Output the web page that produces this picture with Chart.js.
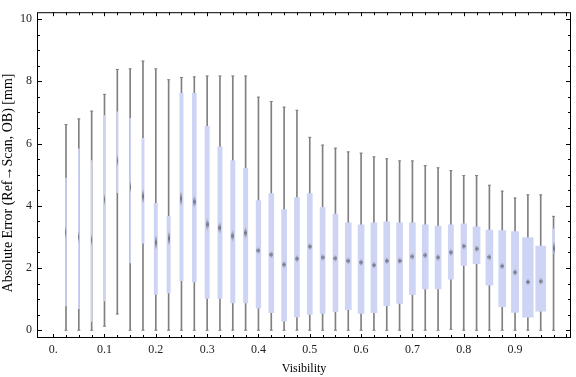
<!DOCTYPE html>
<html>
<head>
<meta charset="utf-8">
<script src="https://cdn.jsdelivr.net/npm/chart.js@4.4.1/dist/chart.umd.min.js"></script>
<style>
  html, body { margin: 0; padding: 0; background: #fff; }
</style>
</head>
<body>
<canvas id="box-chart" width="576" height="377"></canvas>
<script>
// bins of the visibility axis, one box per bin
let visibility = [0.025, 0.05, 0.075, 0.1, 0.125, 0.15, 0.175, 0.2, 0.225, 0.25,
                  0.275, 0.3, 0.325, 0.35, 0.375, 0.4, 0.425, 0.45, 0.475, 0.5,
                  0.525, 0.55, 0.575, 0.6, 0.625, 0.65, 0.675, 0.7, 0.725, 0.75,
                  0.775, 0.8, 0.825, 0.85, 0.875, 0.9, 0.925, 0.95, 0.975];
let whiskerLow = [0, 0, 0, 0.13, 0.52, 0, 0, 0, 0, 0,
                  0, 0, 0, 0, 0, 0, 0, 0, 0, 0,
                  0, 0, 0, 0, 0, 0, 0, 0, 0, 0,
                  0.03, 0, 0, 0, 0, 0, 0, 0, 0];
let quartile1 = [0.78, 0.69, 0.28, 0.94, 4.42, 2.16, 2.80, 1.15, 1.20, 1.59,
                 1.55, 1.02, 1.02, 0.88, 0.88, 0.71, 0.56, 0.29, 0.42, 0.51,
                 0.54, 0.60, 0.66, 0.54, 0.56, 0.79, 0.86, 1.14, 1.33, 1.33,
                 1.64, 2.08, 2.14, 1.45, 0.76, 0.57, 0.42, 0.61, 2.46];
let median = [3.15, 3.0, 2.9, 4.2, 5.45, 4.6, 4.3, 2.82, 2.95, 4.23,
              4.13, 3.40, 3.29, 3.03, 3.13, 2.56, 2.43, 2.11, 2.30, 2.69,
              2.34, 2.31, 2.23, 2.18, 2.09, 2.23, 2.23, 2.37, 2.41, 2.34,
              2.50, 2.70, 2.62, 2.35, 2.06, 1.86, 1.55, 1.57, 2.63];
let quartile3 = [4.89, 5.83, 5.45, 6.90, 7.02, 6.81, 6.17, 4.08, 3.66, 7.61,
                 7.61, 6.55, 5.89, 5.45, 5.20, 4.17, 4.39, 3.88, 4.26, 4.39,
                 3.95, 3.73, 3.45, 3.39, 3.45, 3.48, 3.45, 3.45, 3.39, 3.35,
                 3.39, 3.42, 3.32, 3.22, 3.20, 3.17, 2.98, 2.70, 3.26];
let whiskerHigh = [6.61, 6.79, 7.04, 7.58, 8.38, 8.40, 8.65, 8.40, 8.05, 8.12,
                   8.14, 8.17, 8.17, 8.17, 8.17, 7.49, 7.35, 7.17, 7.07, 6.20,
                   5.95, 5.85, 5.73, 5.69, 5.57, 5.51, 5.44, 5.44, 5.29, 5.22,
                   5.13, 4.97, 4.97, 4.66, 4.47, 4.25, 4.35, 4.35, 3.66];
// relative sample share of each bin (drives the box width)
let boxWeight = [0.1, 0.1, 0.1, 0.1, 0.1, 0.1, 0.23, 0.33, 0.33, 0.33,
                 0.4, 0.43, 0.43, 0.43, 0.43, 0.47, 0.5, 0.5, 0.5, 0.5,
                 0.5, 0.5, 0.6, 0.6, 0.6, 0.6, 0.6, 0.6, 0.6, 0.6,
                 0.5, 0.57, 0.7, 0.7, 0.7, 0.73, 1.07, 1.0, 0.2];
let xTicks = [0, 0.1, 0.2, 0.3, 0.4, 0.5, 0.6, 0.7, 0.8, 0.9];
let yTicks = [0, 2, 4, 6, 8, 10];

const boxColor = '#cdd4f4';
const whiskerColor = '#808080';

function boxWidth(i) {
	return Math.max(1, boxWeight[i] * 10);
}

// soft diamond used as median mark
function makeMarker(w, h) {
	let c = document.createElement('canvas');
	c.width = w; c.height = h;
	let g = c.getContext('2d');
	let grad = g.createLinearGradient(0, 0, 0, h);
	grad.addColorStop(0, 'rgba(110,110,120,0)');
	grad.addColorStop(0.5, 'rgba(100,100,110,0.9)');
	grad.addColorStop(1, 'rgba(110,110,120,0)');
	g.fillStyle = grad;
	if (w <= 2) {
		g.fillRect(0, 0, w, h);
	} else {
		g.beginPath();
		g.moveTo(w / 2, 0); g.lineTo(w, h / 2); g.lineTo(w / 2, h); g.lineTo(0, h / 2);
		g.closePath();
		g.fill();
	}
	return c;
}

let markers = visibility.map((v, i) => {
	let w = boxWidth(i);
	if (w < 2) return makeMarker(1, 12);
	if (w < 4.6) return makeMarker(Math.max(2, Math.round(w) - 1), 14);
	return makeMarker(4, 8);
});

let datasets = [];

datasets.push({
	type: 'bar',
	label: 'whiskers',
	data: visibility.map((v, i) => ({x: v, y: [whiskerLow[i], whiskerHigh[i]]})),
	backgroundColor: whiskerColor,
	barThickness: 1,
	grouped: false,
	order: 10
});

visibility.forEach((v, i) => {
	datasets.push({
		type: 'bar',
		label: 'box ' + v,
		data: [{x: v, y: [quartile1[i], quartile3[i]]}],
		backgroundColor: boxColor,
		barThickness: boxWidth(i),
		grouped: false,
		order: 5
	});
});

datasets.push({
	type: 'scatter',
	label: 'caps',
	data: visibility.map((v, i) => ({x: v, y: whiskerLow[i]}))
		.concat(visibility.map((v, i) => ({x: v, y: whiskerHigh[i]}))),
	pointStyle: 'line',
	pointRadius: 1.5,
	borderColor: whiskerColor,
	borderWidth: 1,
	showLine: false,
	order: 3
});

datasets.push({
	type: 'scatter',
	label: 'median',
	data: visibility.map((v, i) => ({x: v, y: median[i]})),
	pointStyle: ctx => markers[ctx.dataIndex],
	pointRadius: 3,
	showLine: false,
	order: 1
});

const framePlugin = {
	id: 'frame',
	afterDatasetsDraw(chart) {
		const {ctx, chartArea: a, scales: {x, y}} = chart;
		ctx.save();
		ctx.strokeStyle = '#000';
		ctx.lineWidth = 1;
		ctx.beginPath();
		for (let i = 0; i <= 40; i++) {
			let px = Math.round(x.getPixelForValue(i * 0.025)) + 0.5;
			let len = i % 4 === 0 ? 4 : 3;
			ctx.moveTo(px, a.bottom); ctx.lineTo(px, a.bottom - len);
			ctx.moveTo(px, a.top); ctx.lineTo(px, a.top + len);
		}
		for (let j = 0; j <= 20; j++) {
			let py = Math.round(y.getPixelForValue(j * 0.5)) + 0.5;
			let len = j % 4 === 0 ? 5 : 3;
			ctx.moveTo(a.left, py); ctx.lineTo(a.left + len, py);
			ctx.moveTo(a.right, py); ctx.lineTo(a.right - len, py);
		}
		ctx.stroke();
		ctx.strokeRect(a.left + 0.5, a.top + 0.5, a.right - a.left - 1, a.bottom - a.top - 1);

		// y title sits a little below the plot centre, as in the original
		ctx.translate(8, 183);
		ctx.rotate(-Math.PI / 2);
		ctx.fillStyle = '#000';
		ctx.font = '14px "Liberation Serif", serif';
		ctx.textAlign = 'center';
		ctx.textBaseline = 'middle';
		ctx.fillText('Absolute Error (Ref\u2192Scan, OB) [mm]', 0, 0);
		ctx.restore();
	}
};

Chart.defaults.font.family = '"Liberation Serif", "Times New Roman", serif';
Chart.defaults.font.size = 12;

try {
	let chart = new Chart(document.getElementById('box-chart'), {
		type: 'bar',
		data: {datasets: datasets},
		plugins: [framePlugin],
		options: {
			responsive: false,
			animation: false,
			layout: {padding: {top: 4, right: 1, left: 0, bottom: 0}},
			plugins: {
				legend: {display: false},
				tooltip: {enabled: false}
			},
			scales: {
				x: {
					type: 'linear',
					offset: false,
					min: -0.0315,
					max: 1.009,
					grid: {display: false, offset: false, drawTicks: false, tickLength: 0},
					border: {display: false},
					afterBuildTicks: s => { s.ticks = xTicks.map(v => ({value: v})); },
					afterFit: s => { s.height = 39; },
					ticks: {
						color: '#222',
						padding: 5,
						autoSkip: false,
						maxRotation: 0,
						callback: v => v === 0 ? '0.' : v.toFixed(1)
					},
					title: {
						display: true,
						text: 'Visibility',
						color: '#000',
						padding: {top: 0, bottom: 1}
					}
				},
				y: {
					type: 'linear',
					min: -0.25,
					max: 10.22,
					grid: {display: false, drawTicks: false, tickLength: 0},
					border: {display: false},
					afterBuildTicks: s => { s.ticks = yTicks.map(v => ({value: v})); },
					afterFit: s => { s.width = 37; },
					ticks: {
						color: '#222',
						padding: 5,
						callback: v => String(v)
					}
				}
			}
		}
	});
} catch (error) {
	console.log(error);
}
</script>
</body>
</html>
